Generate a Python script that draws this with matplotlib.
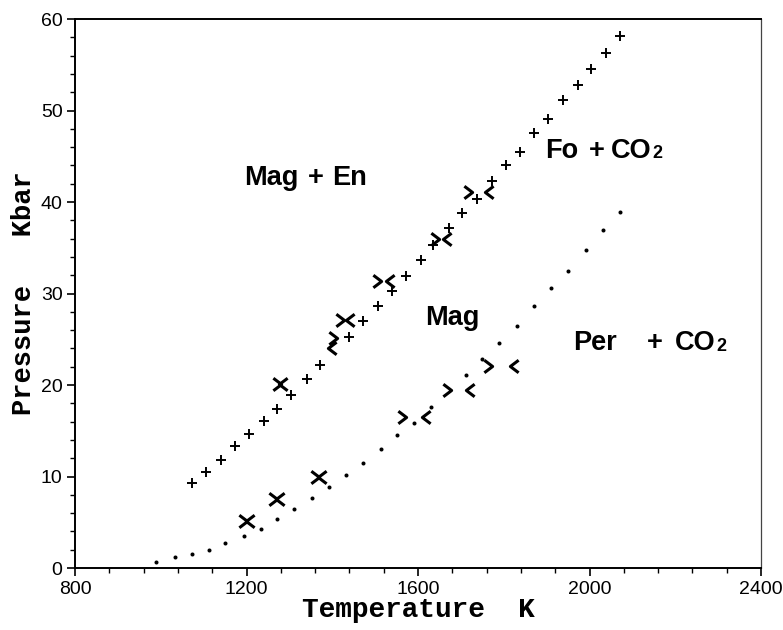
import matplotlib
matplotlib.use('Agg')
import matplotlib.pyplot as plt
from matplotlib.path import Path
from matplotlib.ticker import MultipleLocator

# 相平衡数据 (T in K, P in kbar)
# Mag + En = Fo + CO2 边界计算点
plus_T = [1074, 1105, 1140, 1172, 1206, 1240, 1272, 1304, 1340, 1371, 1439, 1471,
          1507, 1540, 1573, 1606, 1636, 1673, 1702, 1737, 1772, 1805, 1838, 1871,
          1904, 1939, 1974, 2004, 2039, 2071]
plus_P = [9.3, 10.5, 11.8, 13.3, 14.6, 16.1, 17.4, 18.9, 20.65, 22.2, 25.3, 27.0,
          28.6, 30.3, 31.9, 33.7, 35.3, 37.2, 38.8, 40.3, 42.3, 44.0, 45.5, 47.5,
          49.1, 51.1, 52.8, 54.5, 56.3, 58.1]

# Mag = Per + CO2 边界计算点
dot_T = [990, 1033, 1073, 1112, 1151, 1194, 1233, 1272, 1311, 1353, 1392, 1431,
         1471, 1513, 1552, 1591, 1630, 1711, 1750, 1790, 1832, 1871, 1911, 1950,
         1993, 2032, 2071]
dot_P = [0.7, 1.2, 1.5, 2.0, 2.7, 3.5, 4.3, 5.35, 6.5, 7.7, 8.8, 10.2,
         11.5, 13.0, 14.5, 15.9, 17.6, 21.1, 22.8, 24.6, 26.5, 28.6, 30.6, 32.5,
         34.8, 36.9, 38.9]

# 实验约束: 下限 (>) 与上限 (<)
gt_T = [1192, 1261, 1359, 1562, 1667, 1764, 1270, 1402, 1418, 1504, 1640, 1717]
gt_P = [5.1, 7.5, 10.0, 16.5, 19.5, 22.1, 20.1, 25.1, 27.1, 31.4, 36.0, 41.1]
lt_T = [1208, 1277, 1375, 1618, 1721, 1824, 1286, 1400, 1441, 1535, 1667, 1766]
lt_P = [5.1, 7.5, 10.0, 16.5, 19.5, 22.1, 20.1, 24.1, 27.1, 31.4, 36.0, 41.1]

x_ticks = [800, 1200, 1600, 2000, 2400]
y_ticks = [0, 10, 20, 30, 40, 50, 60]

# 折线形标记
chev_r = Path([(-0.33, 0.5), (0.33, 0.0), (-0.33, -0.5)],
              [Path.MOVETO, Path.LINETO, Path.LINETO])
chev_l = Path([(0.33, 0.5), (-0.33, 0.0), (0.33, -0.5)],
              [Path.MOVETO, Path.LINETO, Path.LINETO])

fig = plt.figure(figsize=(7.83, 6.30), dpi=100)
ax = fig.add_axes([0.0958, 0.0984, 0.8761, 0.8714])

ax.plot(plus_T, plus_P, ls='none', marker='+', ms=7, mew=1.4, color='black')
ax.plot(dot_T, dot_P, ls='none', marker='o', ms=2.9, mew=0, color='black')
ax.plot(gt_T, gt_P, ls='none', marker=chev_r, ms=9, mew=2.2, mfc='none', mec='black')
ax.plot(lt_T, lt_P, ls='none', marker=chev_l, ms=9, mew=2.2, mfc='none', mec='black')

ax.set_xlim(800, 2400)
ax.set_ylim(0, 60)
ax.set_xticks(x_ticks)
ax.set_yticks(y_ticks)
ax.xaxis.set_minor_locator(MultipleLocator(80))
ax.yaxis.set_minor_locator(MultipleLocator(2))
ax.tick_params(which='major', direction='out', length=6, width=1.2,
               labelsize=14, pad=3)
ax.tick_params(which='minor', direction='out', length=3.5, width=1.0)
for lab in ax.get_xticklabels() + ax.get_yticklabels():
    lab.set_fontfamily('Liberation Sans')

for side in ['left', 'bottom', 'top']:
    ax.spines[side].set_linewidth(1.4)
ax.spines['right'].set_linewidth(0.9)
ax.spines['right'].set_color('#444444')

ax.set_xlabel('Temperature  K', family='Liberation Mono', fontweight='bold', fontsize=20)
ax.set_ylabel('Pressure   Kbar', family='Liberation Mono', fontweight='bold', fontsize=19.5)
ax.xaxis.set_label_coords(0.5, -0.053)
ax.yaxis.set_label_coords(-0.056, 0.5)

# 相区标注
reg = dict(family='Liberation Sans', fontweight='bold', fontsize=19.5,
           ha='left', va='baseline')


def co2(x, y):
    co = ax.text(x, y, 'CO', **reg)
    ax.annotate('2', xy=(1, 0), xycoords=co, xytext=(0.5, 1.2),
                textcoords='offset points', family='Liberation Sans',
                fontweight='bold', fontsize=13, ha='left', va='bottom')


ax.text(1194, 41.9, 'Mag', **reg)
ax.text(1342, 41.9, '+', **reg)
ax.text(1400, 41.9, 'En', **reg)
ax.text(1616, 26.6, 'Mag', **reg)
ax.text(1896, 44.8, 'Fo', **reg)
ax.text(1999, 44.8, '+', **reg)
co2(2050, 44.8)
ax.text(1961, 23.8, 'Per', **reg)
ax.text(2133, 23.8, '+', **reg)
co2(2199, 23.8)

fig.savefig('out.png', dpi=100)
plt.close()
